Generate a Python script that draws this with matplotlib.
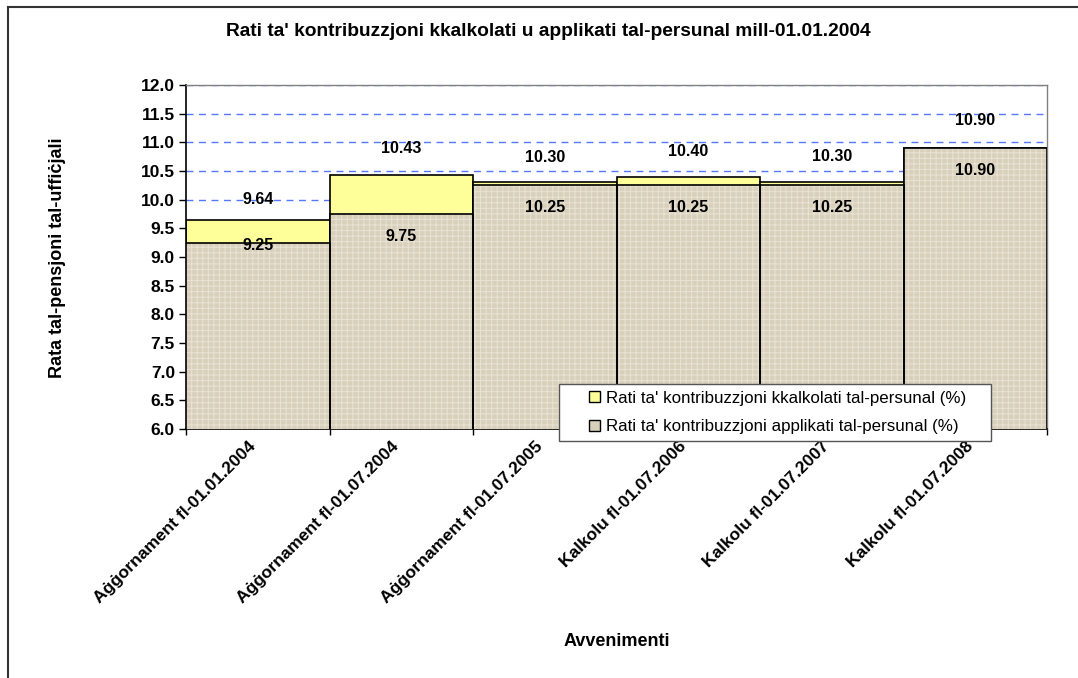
import numpy as np
import matplotlib
matplotlib.use("Agg")
import matplotlib.pyplot as plt
import matplotlib.transforms as mtransforms
from matplotlib.patches import Patch, Rectangle
from matplotlib.lines import Line2D
from matplotlib.legend_handler import HandlerPatch

plt.rcParams['font.family'] = ['Liberation Sans', 'DejaVu Sans']
plt.rcParams['hatch.linewidth'] = 0.7

# data
events = ['Aġġornament fl-01.01.2004', 'Aġġornament fl-01.07.2004',
          'Aġġornament fl-01.07.2005', 'Kalkolu fl-01.07.2006',
          'Kalkolu fl-01.07.2007', 'Kalkolu fl-01.07.2008']
calc_rate = [9.64, 10.43, 10.30, 10.40, 10.30, 10.90]
appl_rate = [9.25, 9.75, 10.25, 10.25, 10.25, 10.90]
calc_name = "Rati ta' kontribuzzjoni kkalkolati tal-persunal (%)"
appl_name = "Rati ta' kontribuzzjoni applikati tal-persunal (%)"

# label offsets in points (Excel put them a bit unevenly)
calc_off = [15, 19, 18, 18, 19, 20]
appl_off = [-2, -16, -16, -16, -16, -16]

W, H = 1078, 678
fig = plt.figure(figsize=(W / 100, H / 100), dpi=100)
ax = fig.add_axes([186 / W, 1 - 429 / H, (1047 - 186) / W, (429 - 85) / H])

x = np.arange(len(events))
yellow = '#FFFF99'
beige = '#D9D0BC'

ax.bar(x, calc_rate, width=1.0, bottom=0, color=yellow, edgecolor='black',
       linewidth=1.2, zorder=2)
# textured front bars: hatch layer then outline
ax.bar(x, appl_rate, width=1.0, color=beige, edgecolor='#E9E3D5', hatch='+++',
       linewidth=0, zorder=3)
ax.bar(x, appl_rate, width=1.0, fill=False, edgecolor='black', linewidth=1.2, zorder=4)

for i in range(len(x)):
    ax.annotate('%.2f' % calc_rate[i], (x[i], calc_rate[i]), xytext=(0, calc_off[i]),
                textcoords='offset points', ha='center', va='center',
                fontsize=11.5, fontweight='bold', zorder=6)
    ax.annotate('%.2f' % appl_rate[i], (x[i], appl_rate[i]), xytext=(0, appl_off[i]),
                textcoords='offset points', ha='center', va='center',
                fontsize=11.5, fontweight='bold', zorder=6)

ax.set_xlim(-0.5, len(x) - 0.5)
ax.set_ylim(6.0, 12.0)
yt = np.arange(6.0, 12.01, 0.5)
ax.set_yticks(yt)
ax.set_yticklabels(['%.1f' % v for v in yt], fontsize=12.5, fontweight='bold')
ax.yaxis.grid(True, linestyle=(0, (5, 4)), color='#5577FF', linewidth=1)
ax.set_axisbelow(True)
ax.tick_params(axis='y', direction='out', length=5, width=1, pad=3)

ax.set_xticks(x)
ax.set_xticklabels(events, rotation=45, ha='right', va='top', rotation_mode='anchor',
                   fontsize=12.5, fontweight='bold')
ax.tick_params(axis='x', length=0, pad=7)
shift = mtransforms.ScaledTranslation(-10 / 100, 0, fig.dpi_scale_trans)
for lab in ax.get_xticklabels():
    lab.set_transform(lab.get_transform() + shift)
ax.set_xticks(np.arange(-0.5, len(x), 1.0), minor=True)
ax.tick_params(axis='x', which='minor', direction='out', length=4, width=1)

for s in ['left', 'bottom']:
    ax.spines[s].set_color('black')
    ax.spines[s].set_linewidth(1.2)
for s in ['top', 'right']:
    ax.spines[s].set_color('#808080')
    ax.spines[s].set_linewidth(1.0)

fig.text(548 / W, 1 - 31 / H,
         "Rati ta' kontribuzzjoni kkalkolati u applikati tal-persunal mill-01.01.2004",
         ha='center', va='center', fontsize=13.8, fontweight='bold')
fig.text(617 / W, 1 - 642 / H, 'Avvenimenti', ha='center', va='center',
         fontsize=13, fontweight='bold')
fig.text(57 / W, 1 - 258 / H, 'Rata tal-pensjoni tal-uffiċjali', ha='center', va='center',
         rotation=90, fontsize=13, fontweight='bold')


def small_square(legend, orig_handle, xdescent, ydescent, width, height, fontsize):
    side = 0.62 * fontsize
    return Rectangle((width - side - xdescent, (height - side) / 2 - ydescent), side, side)


handles = [Patch(facecolor=yellow, edgecolor='black', linewidth=1),
           Patch(facecolor=beige, edgecolor='black', linewidth=1)]
leg = ax.legend(handles, [calc_name, appl_name], loc='lower left',
                bbox_to_anchor=((559 - 186) / 861, (429 - 441) / 344, (991 - 559) / 861, 63 / 344),
                mode='expand', fontsize=12.2, frameon=True, fancybox=False, framealpha=1,
                handlelength=2.0, handleheight=0.6, handletextpad=0.4,
                borderpad=0.4, labelspacing=0.8, borderaxespad=0,
                handler_map={Patch: HandlerPatch(patch_func=small_square)})
leg.get_frame().set_edgecolor('#555555')
leg.get_frame().set_linewidth(1.0)
leg.set_zorder(10)

# outer chart border
fig.add_artist(Line2D([8 / W, 8 / W], [0, 1 - 7 / H], color='#333333', linewidth=1.5))
fig.add_artist(Line2D([8 / W, 1], [1 - 7 / H, 1 - 7 / H], color='#333333', linewidth=1.5))

fig.savefig('out.png', dpi=100)
